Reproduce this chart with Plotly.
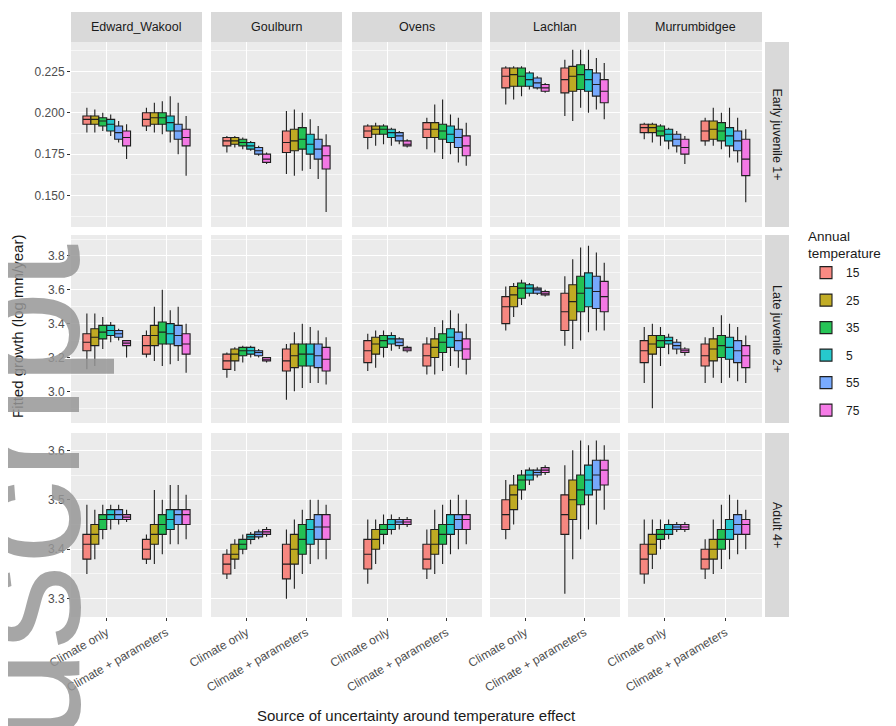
import plotly.graph_objects as go

# ---------------- data ----------------
rivers = ["Edward_Wakool", "Goulburn", "Ovens", "Lachlan", "Murrumbidgee"]
stages = ["Early juvenile 1+", "Late juvenile 2+", "Adult 4+"]
sources = ["Climate only", "Climate + parameters"]
temps = ["15", "25", "35", "5", "55", "75"]
colors = ["#F8766D", "#B79F00", "#00BA38", "#00BFC4", "#619CFF", "#F564E3"]

# each row: [lower whisker, q1, median, q3, upper whisker]
# first 6 rows = "Climate only", last 6 rows = "Climate + parameters"
ew_early = [[0.188, 0.193, 0.196, 0.198, 0.203], [0.188, 0.193, 0.196, 0.198, 0.202],
            [0.189, 0.192, 0.195, 0.197, 0.200], [0.186, 0.189, 0.193, 0.196, 0.199],
            [0.182, 0.184, 0.188, 0.192, 0.195], [0.172, 0.180, 0.185, 0.189, 0.193],
            [0.189, 0.192, 0.196, 0.200, 0.203], [0.188, 0.193, 0.197, 0.200, 0.206],
            [0.187, 0.193, 0.197, 0.200, 0.207], [0.182, 0.189, 0.194, 0.198, 0.210],
            [0.175, 0.184, 0.189, 0.193, 0.206], [0.162, 0.180, 0.185, 0.190, 0.198]]
go_early = [[0.176, 0.180, 0.183, 0.185, 0.186], [0.179, 0.181, 0.183, 0.185, 0.186],
            [0.178, 0.180, 0.182, 0.184, 0.185], [0.177, 0.178, 0.180, 0.182, 0.183],
            [0.174, 0.175, 0.177, 0.179, 0.180], [0.169, 0.170, 0.172, 0.175, 0.176],
            [0.163, 0.176, 0.182, 0.189, 0.201], [0.162, 0.177, 0.183, 0.190, 0.202],
            [0.165, 0.178, 0.184, 0.191, 0.200], [0.166, 0.175, 0.181, 0.187, 0.196],
            [0.160, 0.172, 0.178, 0.184, 0.192], [0.140, 0.166, 0.174, 0.180, 0.187]]
ov_early = [[0.178, 0.185, 0.189, 0.192, 0.193], [0.180, 0.187, 0.190, 0.192, 0.194],
            [0.181, 0.187, 0.190, 0.192, 0.193], [0.180, 0.185, 0.188, 0.190, 0.191],
            [0.181, 0.183, 0.186, 0.188, 0.189], [0.179, 0.180, 0.181, 0.183, 0.184],
            [0.178, 0.185, 0.190, 0.194, 0.197], [0.176, 0.185, 0.190, 0.194, 0.205],
            [0.172, 0.184, 0.189, 0.193, 0.208], [0.175, 0.182, 0.187, 0.192, 0.199],
            [0.170, 0.179, 0.185, 0.190, 0.197], [0.168, 0.174, 0.180, 0.186, 0.194]]
la_early = [[0.205, 0.215, 0.222, 0.227, 0.228], [0.208, 0.216, 0.223, 0.227, 0.228],
            [0.210, 0.216, 0.222, 0.227, 0.228], [0.214, 0.216, 0.220, 0.224, 0.225],
            [0.214, 0.215, 0.218, 0.221, 0.222], [0.212, 0.213, 0.215, 0.217, 0.218],
            [0.198, 0.212, 0.220, 0.227, 0.232], [0.195, 0.213, 0.222, 0.228, 0.238],
            [0.203, 0.214, 0.223, 0.229, 0.238], [0.200, 0.213, 0.220, 0.226, 0.238],
            [0.202, 0.210, 0.217, 0.224, 0.233], [0.196, 0.206, 0.213, 0.220, 0.230]]
mu_early = [[0.184, 0.188, 0.191, 0.193, 0.194], [0.182, 0.188, 0.191, 0.193, 0.194],
            [0.180, 0.186, 0.189, 0.192, 0.193], [0.178, 0.183, 0.187, 0.190, 0.191],
            [0.176, 0.180, 0.184, 0.187, 0.189], [0.169, 0.175, 0.179, 0.184, 0.186],
            [0.180, 0.183, 0.189, 0.195, 0.197], [0.180, 0.184, 0.190, 0.195, 0.203],
            [0.178, 0.183, 0.189, 0.194, 0.200], [0.173, 0.180, 0.186, 0.191, 0.203],
            [0.170, 0.177, 0.183, 0.189, 0.197], [0.146, 0.162, 0.172, 0.184, 0.190]]

ew_late = [[3.13, 3.24, 3.29, 3.34, 3.46], [3.15, 3.27, 3.32, 3.37, 3.46],
           [3.25, 3.31, 3.35, 3.39, 3.44], [3.29, 3.33, 3.36, 3.39, 3.41],
           [3.30, 3.32, 3.34, 3.36, 3.37], [3.20, 3.27, 3.285, 3.30, 3.30],
           [3.20, 3.22, 3.27, 3.33, 3.36], [3.18, 3.27, 3.33, 3.39, 3.50],
           [3.15, 3.28, 3.35, 3.41, 3.60], [3.16, 3.28, 3.34, 3.40, 3.48],
           [3.18, 3.27, 3.33, 3.39, 3.50], [3.11, 3.22, 3.28, 3.34, 3.40]]
go_late = [[3.08, 3.13, 3.18, 3.22, 3.23], [3.12, 3.18, 3.22, 3.25, 3.26],
           [3.17, 3.21, 3.24, 3.26, 3.27], [3.20, 3.22, 3.24, 3.26, 3.27],
           [3.20, 3.21, 3.23, 3.24, 3.25], [3.17, 3.18, 3.19, 3.20, 3.20],
           [2.95, 3.12, 3.18, 3.25, 3.28], [3.00, 3.14, 3.21, 3.28, 3.35],
           [3.02, 3.15, 3.22, 3.28, 3.40], [3.05, 3.15, 3.22, 3.28, 3.38],
           [3.05, 3.14, 3.21, 3.28, 3.36], [3.04, 3.12, 3.19, 3.26, 3.32]]
ov_late = [[3.12, 3.17, 3.24, 3.30, 3.34], [3.14, 3.22, 3.28, 3.32, 3.36],
           [3.20, 3.26, 3.30, 3.33, 3.36], [3.24, 3.28, 3.31, 3.33, 3.35],
           [3.25, 3.27, 3.29, 3.31, 3.32], [3.23, 3.24, 3.25, 3.26, 3.27],
           [3.10, 3.15, 3.21, 3.28, 3.32], [3.10, 3.20, 3.26, 3.31, 3.38],
           [3.12, 3.23, 3.29, 3.34, 3.42], [3.15, 3.26, 3.32, 3.37, 3.48],
           [3.14, 3.24, 3.30, 3.35, 3.46], [3.10, 3.19, 3.25, 3.31, 3.40]]
la_late = [[3.36, 3.40, 3.50, 3.56, 3.62], [3.44, 3.50, 3.57, 3.62, 3.64],
           [3.51, 3.55, 3.61, 3.64, 3.66], [3.56, 3.58, 3.61, 3.63, 3.64],
           [3.57, 3.58, 3.60, 3.61, 3.62], [3.56, 3.57, 3.58, 3.59, 3.60],
           [3.27, 3.36, 3.47, 3.58, 3.68], [3.25, 3.42, 3.53, 3.63, 3.78],
           [3.30, 3.47, 3.58, 3.68, 3.85], [3.35, 3.50, 3.61, 3.70, 3.86],
           [3.36, 3.49, 3.59, 3.68, 3.82], [3.36, 3.47, 3.56, 3.65, 3.76]]
mu_late = [[3.05, 3.17, 3.24, 3.30, 3.38], [2.90, 3.22, 3.28, 3.33, 3.40],
           [3.15, 3.26, 3.30, 3.33, 3.38], [3.22, 3.28, 3.30, 3.32, 3.34],
           [3.22, 3.25, 3.27, 3.29, 3.31], [3.21, 3.23, 3.24, 3.25, 3.26],
           [3.05, 3.15, 3.21, 3.28, 3.32], [3.08, 3.18, 3.25, 3.31, 3.38],
           [3.05, 3.20, 3.27, 3.33, 3.45], [3.08, 3.19, 3.26, 3.32, 3.40],
           [3.06, 3.17, 3.24, 3.30, 3.38], [3.05, 3.14, 3.21, 3.27, 3.33]]

ew_adult = [[3.35, 3.38, 3.41, 3.43, 3.49], [3.38, 3.41, 3.43, 3.45, 3.48],
            [3.42, 3.44, 3.46, 3.47, 3.49], [3.44, 3.46, 3.47, 3.48, 3.49],
            [3.45, 3.46, 3.47, 3.48, 3.49], [3.455, 3.46, 3.465, 3.47, 3.48],
            [3.37, 3.38, 3.40, 3.42, 3.43], [3.37, 3.41, 3.43, 3.45, 3.52],
            [3.39, 3.43, 3.45, 3.47, 3.50], [3.41, 3.44, 3.46, 3.48, 3.53],
            [3.41, 3.45, 3.47, 3.48, 3.53], [3.42, 3.45, 3.47, 3.48, 3.51]]
go_adult = [[3.34, 3.35, 3.37, 3.39, 3.40], [3.36, 3.38, 3.39, 3.41, 3.42],
            [3.39, 3.40, 3.41, 3.42, 3.43], [3.41, 3.42, 3.425, 3.43, 3.435],
            [3.42, 3.425, 3.43, 3.435, 3.44], [3.425, 3.43, 3.435, 3.44, 3.445],
            [3.30, 3.34, 3.37, 3.41, 3.44], [3.32, 3.37, 3.40, 3.43, 3.46],
            [3.35, 3.39, 3.42, 3.45, 3.48], [3.37, 3.41, 3.44, 3.46, 3.50],
            [3.38, 3.42, 3.445, 3.47, 3.50], [3.38, 3.42, 3.445, 3.47, 3.49]]
ov_adult = [[3.33, 3.36, 3.39, 3.42, 3.46], [3.37, 3.40, 3.42, 3.44, 3.46],
            [3.41, 3.43, 3.44, 3.45, 3.47], [3.43, 3.44, 3.45, 3.46, 3.47],
            [3.44, 3.45, 3.455, 3.46, 3.465], [3.445, 3.45, 3.455, 3.46, 3.465],
            [3.34, 3.36, 3.38, 3.41, 3.44], [3.35, 3.39, 3.41, 3.44, 3.48],
            [3.37, 3.41, 3.43, 3.45, 3.49], [3.39, 3.43, 3.45, 3.47, 3.50],
            [3.40, 3.44, 3.46, 3.47, 3.51], [3.41, 3.44, 3.46, 3.47, 3.50]]
la_adult = [[3.42, 3.44, 3.47, 3.50, 3.54], [3.45, 3.48, 3.51, 3.53, 3.55],
            [3.50, 3.52, 3.54, 3.55, 3.56], [3.53, 3.54, 3.55, 3.56, 3.565],
            [3.545, 3.55, 3.555, 3.56, 3.565], [3.55, 3.555, 3.56, 3.565, 3.57],
            [3.31, 3.43, 3.47, 3.51, 3.57], [3.38, 3.46, 3.50, 3.54, 3.60],
            [3.42, 3.49, 3.52, 3.55, 3.62], [3.44, 3.51, 3.54, 3.57, 3.61],
            [3.45, 3.52, 3.55, 3.58, 3.62], [3.48, 3.53, 3.56, 3.58, 3.61]]
mu_adult = [[3.33, 3.35, 3.38, 3.41, 3.46], [3.36, 3.39, 3.41, 3.43, 3.46],
            [3.40, 3.42, 3.43, 3.44, 3.46], [3.42, 3.43, 3.44, 3.45, 3.46],
            [3.435, 3.44, 3.445, 3.45, 3.455], [3.435, 3.44, 3.445, 3.45, 3.455],
            [3.34, 3.36, 3.38, 3.40, 3.42], [3.35, 3.38, 3.40, 3.42, 3.46],
            [3.36, 3.40, 3.42, 3.44, 3.49], [3.38, 3.42, 3.44, 3.46, 3.51],
            [3.39, 3.43, 3.45, 3.47, 3.50], [3.40, 3.43, 3.45, 3.46, 3.48]]

panel_data = [
    [ew_early, go_early, ov_early, la_early, mu_early],
    [ew_late, go_late, ov_late, la_late, mu_late],
    [ew_adult, go_adult, ov_adult, la_adult, mu_adult],
]

row_ranges = [[0.131, 0.2427], [2.813, 3.924], [3.263, 3.635]]
row_ticks = [[0.150, 0.175, 0.200, 0.225], [3.0, 3.2, 3.4, 3.6, 3.8], [3.3, 3.4, 3.5, 3.6]]
row_ticktext = [["0.150", "0.175", "0.200", "0.225"], ["3.0", "3.2", "3.4", "3.6", "3.8"],
                ["3.3", "3.4", "3.5", "3.6"]]
row_minor = [[0.1375, 0.1625, 0.1875, 0.2125, 0.2375], [2.9, 3.1, 3.3, 3.5, 3.7, 3.9],
             [3.25, 3.35, 3.45, 3.55]]

# ---------------- layout geometry (screen pixels) ----------------
OFF = 8                      # page body margin
W, H = 896 - OFF, 726 - OFF  # figure size so that it fills the window
col_px = [(71, 202), (211, 342), (352, 482), (490, 620), (628, 762)]
row_px = [(42, 227), (235, 423), (433, 617)]


def px_x(v):
    return (v - OFF) / W


def px_y(v):
    return 1 - (v - OFF) / H


def hex_rgba(h, a):
    h = h.lstrip("#")
    return "rgba(%d,%d,%d,%.2f)" % (int(h[0:2], 16), int(h[2:4], 16), int(h[4:6], 16), a)


FONT = "Liberation Sans, Arial, sans-serif"
TICK = 12
STRIP = 12.5
TITLE = 15
fig = go.Figure()
layout = dict(
    width=W, height=H, margin=dict(l=0, r=0, t=0, b=0, autoexpand=False),
    paper_bgcolor="white", plot_bgcolor="#EBEBEB",
    boxmode="group", boxgap=0.2, boxgroupgap=0.0,
    font=dict(family=FONT, size=TICK, color="#4D4D4D"),
    showlegend=True,
    legend=dict(x=px_x(806), y=px_y(223), xanchor="left", yanchor="top",
                title=dict(text="Annual<br>temperature", font=dict(size=13.5, color="#1A1A1A")),
                font=dict(size=TICK, color="#1A1A1A"), tracegroupgap=8.5,
                bgcolor="rgba(0,0,0,0)"),
)

shapes = []
annotations = []

for ri in range(3):
    for ci in range(5):
        n = ri * 5 + ci + 1
        sfx = "" if n == 1 else str(n)
        data = panel_data[ri][ci]
        for k in range(6):
            a = data[k]
            b = data[6 + k]
            fig.add_trace(go.Box(
                x=sources,
                lowerfence=[a[0], b[0]], q1=[a[1], b[1]], median=[a[2], b[2]],
                q3=[a[3], b[3]], upperfence=[a[4], b[4]],
                name=temps[k], legendgroup=temps[k], showlegend=(n == 1),
                offsetgroup="t" + str(k), alignmentgroup="p" + str(n),
                fillcolor=hex_rgba(colors[k], 0.85),
                line=dict(color="#1F1F1F", width=1.1),
                whiskerwidth=0, xaxis="x" + sfx, yaxis="y" + sfx,
                hoverinfo="skip",
            ))
        x0, x1 = col_px[ci]
        y0, y1 = row_px[ri]
        layout["xaxis" + sfx] = dict(
            domain=[px_x(x0), px_x(x1)], anchor="y" + sfx,
            type="category", categoryorder="array", categoryarray=sources,
            range=[-0.6, 1.6], showgrid=True, gridcolor="white", gridwidth=1.1,
            zeroline=False, showline=False, automargin=False,
            ticks="outside" if ri == 2 else "", ticklen=3, tickcolor="#333333", tickwidth=0.8,
            showticklabels=(ri == 2), tickangle=-30,
            tickfont=dict(size=TICK, color="#4D4D4D"),
        )
        layout["yaxis" + sfx] = dict(
            domain=[px_y(y1), px_y(y0)], anchor="x" + sfx,
            range=row_ranges[ri], tickvals=row_ticks[ri], ticktext=row_ticktext[ri],
            showgrid=True, gridcolor="white", gridwidth=1.1,
            minor=dict(tickvals=row_minor[ri], showgrid=True, gridcolor="#F7F7F7",
                       gridwidth=0.6, ticklen=0),
            zeroline=False, showline=False, automargin=False,
            ticks="outside" if ci == 0 else "", ticklen=3, tickcolor="#333333", tickwidth=0.8,
            showticklabels=(ci == 0), tickfont=dict(size=TICK, color="#4D4D4D"),
        )

# column strips
for ci, (x0, x1) in enumerate(col_px):
    shapes.append(dict(type="rect", xref="paper", yref="paper",
                       x0=px_x(x0), x1=px_x(x1), y0=px_y(42), y1=px_y(12),
                       fillcolor="#D9D9D9", line=dict(width=0), layer="below"))
    annotations.append(dict(text=rivers[ci], xref="paper", yref="paper",
                            x=px_x((x0 + x1) / 2), y=px_y(27), showarrow=False,
                            xanchor="center", yanchor="middle",
                            font=dict(size=STRIP, color="#1A1A1A")))
# row strips
for ri, (y0, y1) in enumerate(row_px):
    shapes.append(dict(type="rect", xref="paper", yref="paper",
                       x0=px_x(765), x1=px_x(789), y0=px_y(y1), y1=px_y(y0),
                       fillcolor="#D9D9D9", line=dict(width=0), layer="below"))
    annotations.append(dict(text=stages[ri], xref="paper", yref="paper",
                            x=px_x(777), y=px_y((y0 + y1) / 2), showarrow=False,
                            xanchor="center", yanchor="middle",
                            textangle=90, font=dict(size=STRIP, color="#1A1A1A")))

# axis titles
annotations.append(dict(text="Fitted growth (log mm/year)", xref="paper", yref="paper",
                        x=px_x(18), y=px_y(327), showarrow=False, textangle=-90,
                        xanchor="center", yanchor="middle",
                        font=dict(size=TITLE, color="#1A1A1A")))
annotations.append(dict(text="Source of uncertainty around temperature effect",
                        xref="paper", yref="paper", x=px_x(416), y=px_y(715),
                        xanchor="center", yanchor="middle",
                        showarrow=False, font=dict(size=TITLE, color="#1A1A1A")))

# manuscript watermark on the left margin
annotations.append(dict(text="Manuscript", xref="paper", yref="paper",
                        x=px_x(20), y=px_y(660), xanchor="center", yanchor="middle",
                        showarrow=False, textangle=-90,
                        font=dict(size=170, color="rgba(150,150,150,0.85)", family=FONT)))

layout["shapes"] = shapes
layout["annotations"] = annotations
fig.update_layout(**layout)
fig.write_html("out.html")
